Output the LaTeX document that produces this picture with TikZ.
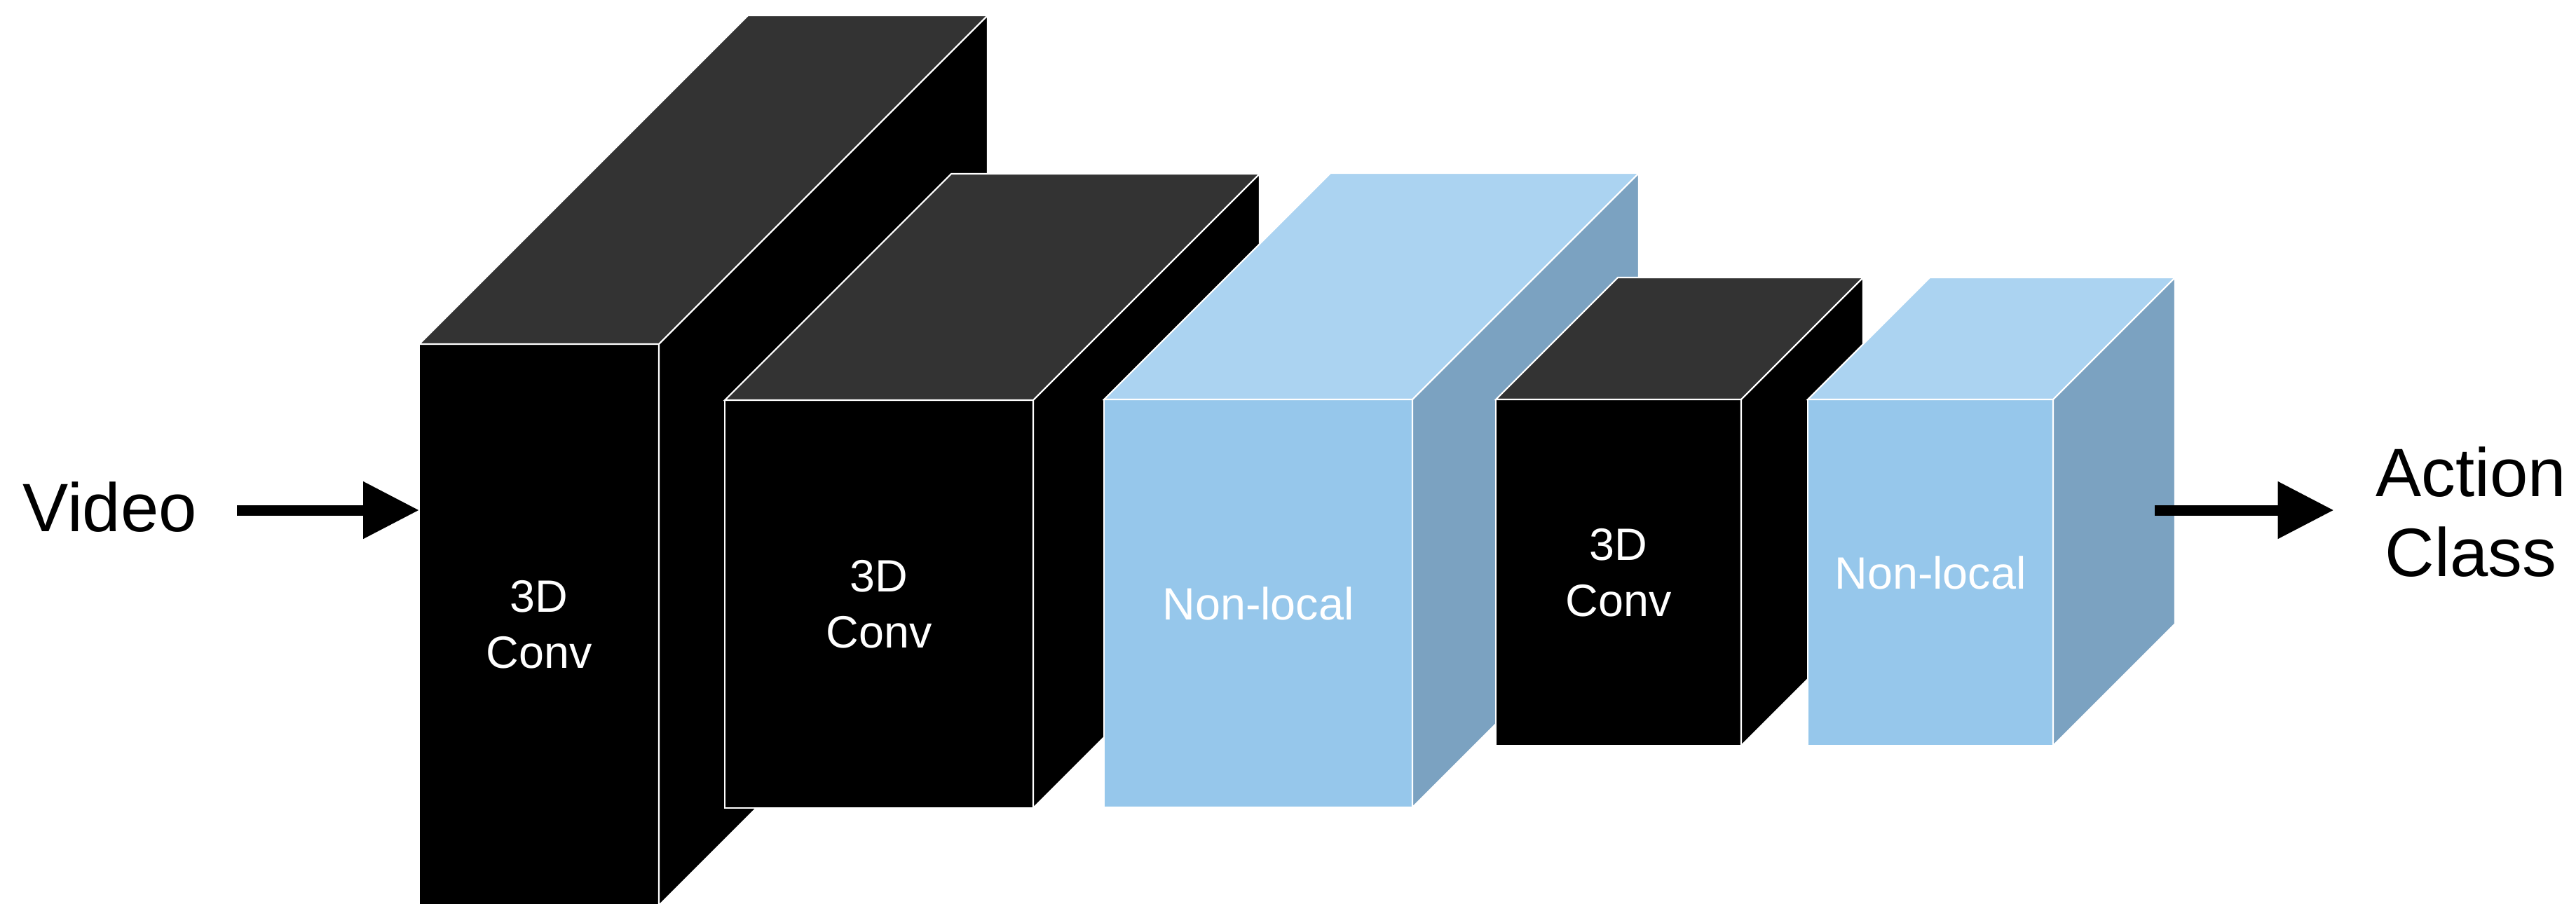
\documentclass[tikz,border=0pt]{standalone}
\usepackage{fontspec}
\setmainfont{Liberation Sans}
\usetikzlibrary{arrows.meta}
\definecolor{topgray}{HTML}{333333}
\definecolor{nlfront}{HTML}{96C7EB}
\definecolor{nltop}{HTML}{ABD3F1}
\definecolor{nlside}{HTML}{7BA2C1}
\tikzset{
  face/.style = {draw=white, line width=0.6pt},
  block/.style = {rectangle, face, inner sep=0pt, outer sep=0pt,
                  anchor=south west, text=white, align=center,
                  font=\fontsize{18.4}{22.8}\selectfont},
  label/.style = {inner sep=0pt, font=\fontsize{27.8}{32.4}\selectfont},
  flow/.style = {line width=0.15cm, -{Triangle[length=0.8cm, width=0.78cm]}}
}

\begin{document}
\begin{tikzpicture}
	\def \dA{4.69} % depth of first conv
	\def \dB{3.23} % depth of middle blocks
	\def \dC{1.74} % depth of last blocks
	
	\useasboundingbox (0,0) rectangle (36.75,12.89);
	
	% Conv 1
	\node[block, fill=black, minimum width=3.42cm, minimum height=8.01cm] (conv1) at (5.98,-0.03) {3D\\Conv};
	\filldraw[fill=topgray, face] (conv1.north west) -- ++(\dA,\dA) -- ++(3.42,0) -- (conv1.north east) -- cycle;
	\filldraw[fill=black, face] (conv1.north east) -- ++(\dA,\dA) -- ++(0,-8.01) -- (conv1.south east) -- cycle;
	
	% Conv 2
	\node[block, fill=black, minimum width=4.40cm, minimum height=5.82cm] (conv2) at (10.34,1.36) {3D\\Conv};
	\filldraw[fill=topgray, face] (conv2.north west) -- ++(\dB,\dB) -- ++(4.40,0) -- (conv2.north east) -- cycle;
	\filldraw[fill=black, face] (conv2.north east) -- ++(\dB,\dB) -- ++(0,-5.82) -- (conv2.south east) -- cycle;
	
	% Non-local 1
	\node[block, fill=nlfront, minimum width=4.40cm, minimum height=5.82cm] (nl1) at (15.75,1.37) {Non-local};
	\filldraw[fill=nltop, face] (nl1.north west) -- ++(\dB,\dB) -- ++(4.40,0) -- (nl1.north east) -- cycle;
	\filldraw[fill=nlside, face] (nl1.north east) -- ++(\dB,\dB) -- ++(0,-5.82) -- (nl1.south east) -- cycle;
	
	% Conv 3
	\node[block, fill=black, minimum width=3.50cm, minimum height=4.94cm] (conv3) at (21.34,2.25) {3D\\Conv};
	\filldraw[fill=topgray, face] (conv3.north west) -- ++(\dC,\dC) -- ++(3.50,0) -- (conv3.north east) -- cycle;
	\filldraw[fill=black, face] (conv3.north east) -- ++(\dC,\dC) -- ++(0,-4.94) -- (conv3.south east) -- cycle;
	
	% Non-local 2
	\node[block, fill=nlfront, minimum width=3.50cm, minimum height=4.94cm] (nl2) at (25.79,2.25) {Non-local};
	\filldraw[fill=nltop, face] (nl2.north west) -- ++(\dC,\dC) -- ++(3.50,0) -- (nl2.north east) -- cycle;
	\filldraw[fill=nlside, face] (nl2.north east) -- ++(\dC,\dC) -- ++(0,-4.94) -- (nl2.south east) -- cycle;
	
	% Input / output
	\node[label, anchor=base west] (video) at (0.32,5.31) {Video};
	\node[label, align=center] (cls) at (35.25,5.58) {Action\\Class};
	
	\coordinate (in) at (3.38,5.61);
	\coordinate (out) at (30.74,5.61);
	\draw[flow] (in) -- (in -| conv1.west);
	\draw[flow, shorten >=0.59cm] (out) -- (out -| cls.west);
	
\end{tikzpicture}
\end{document}
